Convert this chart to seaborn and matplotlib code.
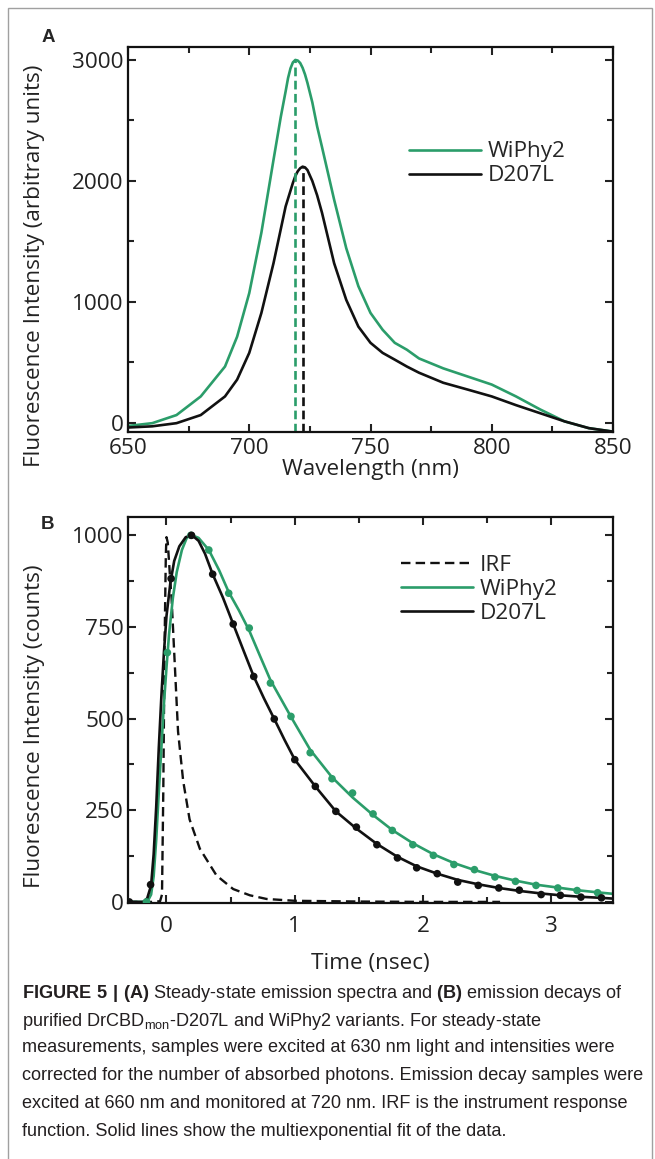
import numpy as np
import pandas as pd
import matplotlib
matplotlib.use("Agg")
import matplotlib.pyplot as plt
from matplotlib.patches import Rectangle
from matplotlib.ticker import MultipleLocator
import seaborn as sns

# panel A: steady-state emission spectra
wl = [650, 660, 670, 680, 690, 695, 700, 705, 710, 713, 715, 716, 717, 718, 719, 720, 721, 722, 723,
      724, 725, 726, 728, 730, 735, 740, 745, 750, 755, 760, 765, 770, 780, 790, 800, 810, 820, 830,
      840, 850]
wiphy2_em = [-25, -2, 65, 219, 466, 713, 1073, 1572, 2174, 2529, 2740, 2850, 2930, 2980, 3000, 2995,
             2975, 2935, 2880, 2810, 2730, 2650, 2450, 2280, 1845, 1444, 1130, 909, 770, 662, 605, 533,
             451, 384, 317, 219, 111, 13, -43, -72]
wl_b = [650, 660, 670, 680, 690, 695, 700, 705, 710, 715, 718, 719, 720, 721, 722, 723, 724, 726, 728,
        730, 735, 740, 745, 750, 755, 760, 765, 770, 780, 790, 800, 810, 820, 830, 840, 850]
d207l_em = [-38, -28, -2, 65, 219, 358, 579, 909, 1320, 1789, 1984, 2040, 2080, 2105, 2118, 2112, 2090,
            2000, 1881, 1737, 1320, 1017, 796, 662, 579, 523, 466, 415, 332, 276, 219, 147, 80, 13, -43, -72]
peak_wl = [719, 722]
peak_int = [3000, 2118]

# panel B: emission decays
irf_t = [-0.30, -0.10, -0.05, -0.035, -0.025, -0.015, -0.005, 0.0, 0.01, 0.025, 0.04, 0.065, 0.09,
         0.13, 0.18, 0.26, 0.39, 0.52, 0.65, 0.78, 1.0, 1.5, 2.0, 2.6]
irf_v = [0, 0, 2, 20, 300, 700, 950, 995, 980, 900, 825, 645, 465, 330, 225, 145, 72, 35, 18, 8, 3, 1, 0, 0]

wiphy2_dot_t = [-0.31, -0.156, 0.007, 0.19, 0.33, 0.485, 0.645, 0.81, 0.97, 1.12, 1.29, 1.45, 1.61,
                1.76, 1.92, 2.08, 2.24, 2.40, 2.56, 2.72, 2.88, 3.05, 3.20, 3.36]
wiphy2_dot_v = [0, 0, 680, 1000, 960, 842, 747, 597, 506, 407, 336, 297, 240, 195, 156, 127, 102, 88,
                68, 56, 45, 38, 31, 25]
wiphy2_fit_t = [-0.30, -0.15, -0.12, -0.10, -0.08, -0.06, -0.04, -0.02, 0.0, 0.02, 0.05, 0.08, 0.12,
                0.16, 0.20, 0.25, 0.33, 0.41, 0.485, 0.565, 0.645, 0.73, 0.81, 0.89, 0.97, 1.12, 1.29,
                1.45, 1.61, 1.76, 1.92, 2.08, 2.24, 2.40, 2.56, 2.72, 2.88, 3.05, 3.20, 3.36, 3.48]
wiphy2_fit_v = [0, 0, 20, 70, 170, 300, 420, 540, 640, 730, 830, 900, 960, 995, 1000, 993, 960, 905,
                845, 795, 740, 670, 605, 555, 505, 415, 340, 285, 237, 196, 160, 130, 106, 87, 71, 58,
                47, 39, 32, 26, 22]

d207l_dot_t = [-0.29, -0.124, 0.036, 0.195, 0.36, 0.52, 0.68, 0.84, 1.0, 1.16, 1.32, 1.48, 1.64, 1.80,
               1.95, 2.11, 2.27, 2.43, 2.59, 2.75, 2.92, 3.07, 3.23, 3.39]
d207l_dot_v = [0, 47, 882, 1000, 894, 758, 615, 499, 388, 315, 247, 204, 156, 120, 93, 77, 54, 45, 38,
               32, 20, 18, 13, 11]
d207l_fit_t = [-0.30, -0.18, -0.15, -0.12, -0.10, -0.08, -0.06, -0.04, -0.02, 0.0, 0.03, 0.06, 0.10,
               0.15, 0.20, 0.25, 0.30, 0.36, 0.44, 0.52, 0.60, 0.68, 0.76, 0.84, 0.92, 1.0, 1.16, 1.32,
               1.48, 1.64, 1.80, 1.95, 2.11, 2.27, 2.43, 2.59, 2.75, 2.92, 3.07, 3.23, 3.39, 3.48]
d207l_fit_v = [0, 0, 10, 45, 130, 260, 420, 560, 680, 780, 870, 930, 970, 995, 1000, 985, 950, 894,
               830, 758, 686, 615, 555, 499, 442, 388, 315, 247, 200, 158, 123, 97, 77, 60, 48, 38, 30,
               23, 18, 14, 11, 9]

caption_lines = [
    r"$\mathbf{FIGURE\ 5\ |\ (A)}$ Steady-state emission spectra and $\mathbf{(B)}$ emission decays of",
    r"purified DrCBD$_{\rm mon}$-D207L and WiPhy2 variants. For steady-state",
    "measurements, samples were excited at 630 nm light and intensities were",
    "corrected for the number of absorbed photons. Emission decay samples were",
    "excited at 660 nm and monitored at 720 nm. IRF is the instrument response",
    "function. Solid lines show the multiexponential fit of the data.",
]

green = "#2b9d6a"
black = "#111111"

sns.set_style("ticks")
plt.rcParams["font.family"] = ["Open Sans", "DejaVu Sans"]
plt.rcParams["mathtext.fontset"] = "custom"
plt.rcParams["mathtext.rm"] = "Liberation Sans"
plt.rcParams["mathtext.bf"] = "Liberation Sans:bold"
plt.rcParams["axes.linewidth"] = 1.6

fig = plt.figure(figsize=(6.55, 11.59), dpi=100)
axA = fig.add_axes([128 / 655, 1 - 432 / 1159, 485 / 655, 385 / 1159])
axB = fig.add_axes([128 / 655, 1 - 903 / 1159, 485 / 655, 386 / 1159])

fs = 16.2
txt = "#222222"

# ---- panel A
sns.lineplot(x=wl, y=wiphy2_em, ax=axA, color=green, lw=1.9, label="WiPhy2", sort=False)
sns.lineplot(x=wl_b, y=d207l_em, ax=axA, color=black, lw=1.9, label="D207L", sort=False)
axA.set_xlim(650, 850)
axA.set_ylim(-75, 3107)
axA.vlines(peak_wl[0], -75, peak_int[0], colors=green, linestyles=(0, (3.3, 1.7)), lw=1.9)
axA.vlines(peak_wl[1], -75, peak_int[1], colors=black, linestyles=(0, (3.3, 1.7)), lw=1.9)
axA.set_xticks([650, 700, 750, 800, 850])
axA.set_yticks([0, 1000, 2000, 3000])
axA.xaxis.set_minor_locator(MultipleLocator(25))
axA.yaxis.set_minor_locator(MultipleLocator(500))
axA.set_xlabel("Wavelength (nm)", fontsize=fs, labelpad=0, color=txt)
axA.set_ylabel("Fluorescence Intensity (arbitrary units)", fontsize=fs, color=txt)
axA.yaxis.set_label_coords(-0.172, 0.431)
axA.legend(loc="upper left", bbox_to_anchor=(0.56, 0.778), frameon=False, fontsize=fs,
           handlelength=3.2, handletextpad=0.3, labelspacing=0.13, borderaxespad=0)

# ---- panel B
sns.lineplot(x=irf_t, y=irf_v, ax=axB, color=black, lw=1.7, linestyle=(0, (4, 2.2)), label="IRF", sort=False)
sns.lineplot(x=wiphy2_fit_t, y=wiphy2_fit_v, ax=axB, color=green, lw=1.9, label="WiPhy2", sort=False)
sns.lineplot(x=d207l_fit_t, y=d207l_fit_v, ax=axB, color=black, lw=1.9, label="D207L", sort=False)
sns.scatterplot(x=wiphy2_dot_t, y=wiphy2_dot_v, ax=axB, color=green, s=30, edgecolor="none", legend=False, zorder=4)
sns.scatterplot(x=d207l_dot_t, y=d207l_dot_v, ax=axB, color=black, s=30, edgecolor="none", legend=False, zorder=4)
axB.set_xlim(-0.3, 3.48)
axB.set_ylim(-3, 1050)
axB.set_xticks([0, 1, 2, 3])
axB.set_yticks([0, 250, 500, 750, 1000])
axB.xaxis.set_minor_locator(MultipleLocator(0.5))
axB.yaxis.set_minor_locator(MultipleLocator(125))
axB.set_xlabel("Time (nsec)", fontsize=fs, labelpad=12, color=txt)
axB.set_ylabel("Fluorescence Intensity (counts)", fontsize=fs, color=txt)
axB.yaxis.set_label_coords(-0.172, 0.459)
axB.legend(loc="upper left", bbox_to_anchor=(0.544, 0.925), frameon=False, fontsize=fs,
           handlelength=3.2, handletextpad=0.3, labelspacing=0.13, borderaxespad=0)

for ax in (axA, axB):
    ax.tick_params(which="both", direction="in", top=True, right=True, labelsize=fs,
                   colors=txt, pad=3)
    ax.tick_params(which="major", length=6, width=1.5)
    ax.tick_params(which="minor", length=4, width=1.5)
    for s in ax.spines.values():
        s.set_color("#111111")
axA.tick_params(axis="x", which="major", pad=4)
axB.tick_params(axis="x", which="major", pad=9)

fig.text(48 / 655, 1 - 37 / 1159, "A", fontsize=13.5, fontweight="bold", ha="center", va="center",
         family=["Liberation Sans", "DejaVu Sans"])
fig.text(48 / 655, 1 - 524 / 1159, "B", fontsize=13.5, fontweight="bold", ha="center", va="center",
         family=["Liberation Sans", "DejaVu Sans"])

# caption
cap_y = [993, 1021, 1048, 1076, 1103, 1131]
for y, line in zip(cap_y, caption_lines):
    fig.text(22 / 655, 1 - y / 1159, line, fontsize=13.1, va="center", ha="left", color="#231f20",
             family=["Liberation Sans", "DejaVu Sans"])

# outer frame
fig.patches.append(Rectangle((8 / 655, -0.02), 644 / 655, 1.02 - 8 / 1159, transform=fig.transFigure,
                             fill=False, edgecolor="#a0a0a0", lw=1.0))

fig.savefig("out.png", dpi=100)
